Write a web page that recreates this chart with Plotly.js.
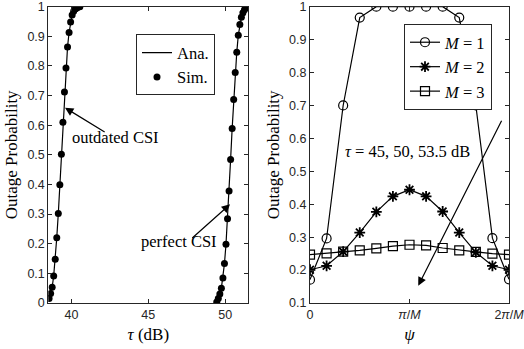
<!DOCTYPE html>
<html>
<head>
<meta charset="utf-8">
<script src="https://cdn.plot.ly/plotly-3.0.1.min.js"></script>
<style>html,body{margin:0;padding:0;background:#fff;}#chart{width:524px;height:349px;}</style>
</head>
<body>
<div id="chart"></div>
<script>
// ---- Left panel data: outage probability vs tau (dB) ----
const tauOutdated = [38.55,38.65,38.75,38.85,38.95,39.05,39.15,39.25,39.35,39.45,39.55,39.65,39.75,39.85,39.95,40.05,40.15,40.25,40.35,40.45,40.55];
const poutOutdated = [0.015,0.032,0.053,0.091,0.148,0.220,0.302,0.399,0.502,0.610,0.712,0.793,0.864,0.913,0.948,0.972,0.985,0.992,0.996,0.999,1.000];
const tauPerfect = [49.45,49.55,49.65,49.75,49.85,49.95,50.05,50.15,50.25,50.35,50.45,50.55,50.65,50.75,50.85,50.95,51.05,51.15,51.25,51.35,51.45];
const poutPerfect = [0.003,0.015,0.030,0.050,0.084,0.133,0.198,0.284,0.378,0.484,0.589,0.687,0.778,0.846,0.904,0.940,0.964,0.980,0.990,0.996,1.000];

// ---- Right panel data: outage probability vs psi (units of pi/M) ----
const psi = [0,0.1667,0.3333,0.5,0.6667,0.8333,1,1.1667,1.3333,1.5,1.6667,1.8333,2];
const poutM1 = [0.171,0.296,0.700,0.967,1.000,1.000,1.000,1.000,1.000,0.967,0.700,0.297,0.172];
const poutM2 = [0.201,0.213,0.256,0.314,0.377,0.424,0.444,0.424,0.378,0.314,0.254,0.213,0.201];
const poutM3 = [0.247,0.251,0.256,0.260,0.266,0.273,0.277,0.275,0.267,0.260,0.255,0.250,0.247];
const psiTickVals = [0,1,2];
const psiTickText = ['0','<i>π</i>/<i>M</i>','2<i>π</i>/<i>M</i>'];

const serif = 'Liberation Serif, Times New Roman, serif';
const sans = 'Liberation Sans, Arial, Helvetica, sans-serif';
const axCol = '#262626';

const traces = [
  {x: tauOutdated, y: poutOutdated, mode: 'lines', line: {color: '#000', width: 1.2}, name: 'Ana.', xaxis: 'x', yaxis: 'y', legend: 'legend'},
  {x: tauPerfect, y: poutPerfect, mode: 'lines', line: {color: '#000', width: 1.2}, showlegend: false, xaxis: 'x', yaxis: 'y'},
  {x: tauOutdated, y: poutOutdated, mode: 'markers', marker: {color: '#000', size: 7}, name: 'Sim.', xaxis: 'x', yaxis: 'y', legend: 'legend'},
  {x: tauPerfect, y: poutPerfect, mode: 'markers', marker: {color: '#000', size: 7}, showlegend: false, xaxis: 'x', yaxis: 'y'},
  {x: psi, y: poutM1, mode: 'lines+markers', name: '<i>M</i> = 1', line: {color: '#000', width: 1.2},
   marker: {symbol: 'circle-open', size: 9, color: '#000', line: {width: 1.2}}, xaxis: 'x2', yaxis: 'y2', legend: 'legend2'},
  {x: psi, y: poutM2, mode: 'lines+markers', name: '<i>M</i> = 2', line: {color: '#000', width: 1.2},
   marker: {symbol: 'asterisk-open', size: 9, color: '#000', line: {width: 1.8, color: '#000'}}, xaxis: 'x2', yaxis: 'y2', legend: 'legend2'},
  {x: psi, y: poutM3, mode: 'lines+markers', name: '<i>M</i> = 3', line: {color: '#000', width: 1.2},
   marker: {symbol: 'square-open', size: 9, color: '#000', line: {width: 1.2}}, xaxis: 'x2', yaxis: 'y2', legend: 'legend2'}
];

const axisCommon = {
  showline: true, linecolor: axCol, linewidth: 1, mirror: 'ticks', ticks: 'inside', ticklen: 4,
  tickcolor: axCol, showgrid: false, zeroline: false, ticklabeloverflow: 'allow',
  tickfont: {family: sans, size: 12.5, color: axCol}
};
const yTop = 1 - 6.7/349, yBot = 1 - 303/349;

const layout = {
  width: 524, height: 349,
  margin: {l: 0, r: 0, t: 0, b: 0},
  paper_bgcolor: '#fff', plot_bgcolor: '#fff',
  showlegend: true,
  xaxis: Object.assign({}, axisCommon, {domain: [48.3/524, 248.3/524], range: [38.5, 51.5], tickvals: [40,45,50], anchor: 'y',
    title: {text: '<i>τ</i> (dB)', font: {family: serif, size: 17, color: '#000'}, standoff: 7}}),
  yaxis: Object.assign({}, axisCommon, {domain: [yBot, yTop], range: [0, 1], dtick: 0.1, anchor: 'x',
    title: {text: 'Outage Probability', font: {family: serif, size: 17, color: '#000'}, standoff: 5}}),
  xaxis2: Object.assign({}, axisCommon, {domain: [310/524, 509/524], range: [0, 2], tickvals: psiTickVals, ticktext: psiTickText, anchor: 'y2',
    title: {text: '<i>ψ</i>', font: {family: serif, size: 17, color: '#000'}, standoff: 7}}),
  yaxis2: Object.assign({}, axisCommon, {domain: [yBot, yTop], range: [0.1, 1], dtick: 0.1, anchor: 'x2',
    title: {text: 'Outage Probability', font: {family: serif, size: 17, color: '#000'}, standoff: 5}}),
  legend: {x: 136/524, y: 1 - 34.3/349, xanchor: 'left', yanchor: 'top', bgcolor: '#fff', bordercolor: axCol, borderwidth: 1,
    font: {family: serif, size: 16.5, color: '#000'}, tracegroupgap: 0},
  legend2: {x: 404/524, y: 1 - 24/349, xanchor: 'left', yanchor: 'top', bgcolor: '#fff', bordercolor: axCol, borderwidth: 1,
    font: {family: serif, size: 16.5, color: '#000'}, tracegroupgap: 0},
  annotations: [
    {xref: 'x', yref: 'y', x: 42.84, y: 0.56, text: 'outdated CSI', showarrow: false, font: {family: serif, size: 16.5, color: '#000'}},
    {xref: 'x', yref: 'y', x: 39.586, y: 0.659, ax: 42.26, ay: 0.574, axref: 'x', ayref: 'y', text: '', showarrow: true,
     arrowhead: 2, arrowsize: 1.4, arrowwidth: 1.2, arrowcolor: '#000'},
    {xref: 'x', yref: 'y', x: 46.98, y: 0.207, text: 'perfect CSI', showarrow: false, font: {family: serif, size: 16.5, color: '#000'}},
    {xref: 'x', yref: 'y', x: 50.314, y: 0.333, ax: 47.76, ay: 0.215, axref: 'x', ayref: 'y', text: '', showarrow: true,
     arrowhead: 2, arrowsize: 1.4, arrowwidth: 1.2, arrowcolor: '#000'},
    {xref: 'x2', yref: 'y2', x: 0.98, y: 0.56, text: '<i>τ</i> = 45, 50, 53.5 dB', showarrow: false, font: {family: serif, size: 16.5, color: '#000'}},
    {xref: 'x2', yref: 'y2', x: 1.088, y: 0.1525, ax: 1.933, ay: 0.658, axref: 'x2', ayref: 'y2', text: '', showarrow: true,
     arrowhead: 2, arrowsize: 1.4, arrowwidth: 1.2, arrowcolor: '#000'}
  ]
};

Plotly.newPlot('chart', traces, layout, {staticPlot: true, displayModeBar: false});
</script>
</body>
</html>
